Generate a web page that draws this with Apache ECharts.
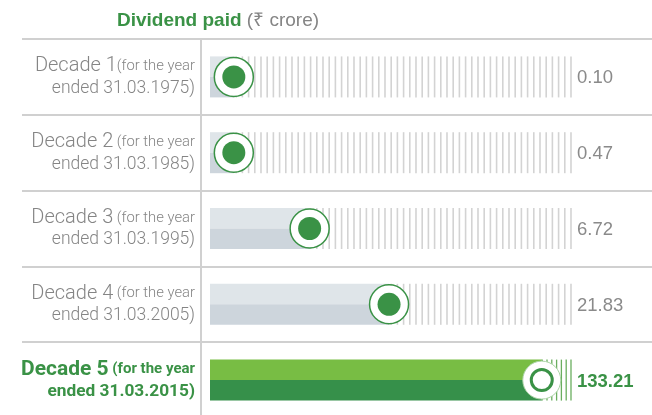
<!DOCTYPE html>
<html>
<head>
<meta charset="utf-8">
<script src="https://cdn.jsdelivr.net/npm/echarts@6/dist/echarts.min.js"></script>
<style>
html, body { margin: 0; padding: 0; background: #fff; }
#chart { width: 652px; height: 415px; }
</style>
</head>
<body>
<div id="chart"></div>
<script>
const decades = ['Decade 1', 'Decade 2', 'Decade 3', 'Decade 4', 'Decade 5'];
const yearEnded = ['31.03.1975', '31.03.1985', '31.03.1995', '31.03.2005', '31.03.2015'];
const dividend = ['0.10', '0.47', '6.72', '21.83', '133.21'];
// marker position on a 0-100 track (the infographic is not to scale)
const markerPos = [6.6, 6.6, 27.6, 49.6, 91.9];

const GREEN = '#3a9246';
const GREY = '#858585';
const LABEL_FONT = 'Roboto, "Liberation Sans", sans-serif';
const SANS = '"Liberation Sans", Arial, sans-serif';

const chart = echarts.init(document.getElementById('chart'));

function renderRow(params, api) {
  const i = api.value(1);
  const p = api.coord([api.value(0), i]);
  const xm = p[0], yc = p[1];
  const x0 = api.coord([0, i])[0];
  const xe = api.coord([100, i])[0];
  const h = 41;
  const top = yc - h / 2;
  const last = i === decades.length - 1;
  const children = [
    {type: 'rect', shape: {x: x0, y: top, width: xm - x0, height: h / 2}, style: {fill: last ? '#78bd44' : '#dfe5e9'}},
    {type: 'rect', shape: {x: x0, y: yc, width: xm - x0, height: h / 2}, style: {fill: last ? '#36904a' : '#cdd5dc'}}
  ];
  // hatching from the end of the track back to the marker
  const step = last ? 4.8 : 6.2;
  for (let x = xe; x > xm; x -= step) {
    children.push({
      type: 'line',
      shape: {x1: x, y1: top, x2: x, y2: top + h},
      style: {stroke: last ? '#6aae5f' : '#d3d3d3', lineWidth: last ? 1.3 : 1.6}
    });
  }
  if (last) {
    children.push({type: 'circle', shape: {cx: xm, cy: yc, r: 19}, style: {fill: '#fff', stroke: '#a9d3a4', lineWidth: 1}});
    children.push({type: 'circle', shape: {cx: xm, cy: yc, r: 10.5}, style: {fill: '#fff', stroke: GREEN, lineWidth: 3}});
  } else {
    children.push({type: 'circle', shape: {cx: xm, cy: yc, r: 19.5}, style: {fill: '#fff', stroke: GREEN, lineWidth: 1.5}});
    children.push({type: 'circle', shape: {cx: xm, cy: yc, r: 11.5}, style: {fill: GREEN}});
  }
  return {type: 'group', children: children};
}

const option = {
  animation: false,
  title: {
    text: '{g|Dividend paid}{s| (₹ crore)}',
    left: 112,
    top: 6,
    textStyle: {
      rich: {
        g: {fontFamily: SANS, fontSize: 19, fontWeight: 'bold', color: GREEN},
        s: {fontFamily: SANS, fontSize: 19, fontWeight: 'normal', color: GREY}
      }
    }
  },
  grid: {left: 22, right: 0, top: 39, bottom: -3, outerBoundsMode: 'none'},
  xAxis: {type: 'value', min: -52.08, max: 122.44, show: false},
  yAxis: [
    {
      type: 'category',
      inverse: true,
      data: decades,
      offset: -179,
      axisLine: {show: true, onZero: false, lineStyle: {color: '#d0d0d0', width: 2}},
      axisTick: {show: false},
      splitLine: {show: true, lineStyle: {color: '#d0d0d0', width: 2}},
      axisLabel: {
        margin: 6,
        align: 'right',
        formatter: function (v, i) {
          const k = i === decades.length - 1 ? '5' : '';
          const sep = i === 0 ? '' : ' ';
          return '{a' + k + '|' + v + '}{b' + k + '|' + sep + '(for the year}\n{c' + k + '|ended ' + yearEnded[i] + ')}';
        },
        rich: {
          a: {fontFamily: LABEL_FONT, fontSize: 20, fontWeight: 300, color: GREY, lineHeight: 23, padding: [2, 0, 0, 0]},
          b: {fontFamily: LABEL_FONT, fontSize: 14.8, fontWeight: 300, color: GREY, lineHeight: 23, padding: [2, 0, 0, 0]},
          c: {fontFamily: LABEL_FONT, fontSize: 17.5, fontWeight: 300, color: GREY, lineHeight: 23},
          a5: {fontFamily: LABEL_FONT, fontSize: 21, fontWeight: 'bold', color: GREEN, lineHeight: 23, padding: [2, 0, 0, 0]},
          b5: {fontFamily: LABEL_FONT, fontSize: 15, fontWeight: 'bold', color: GREEN, lineHeight: 23, padding: [2, 0, 0, 0]},
          c5: {fontFamily: LABEL_FONT, fontSize: 17.3, fontWeight: 'bold', color: GREEN, lineHeight: 23}
        }
      }
    },
    {
      type: 'category',
      inverse: true,
      position: 'right',
      offset: -81,
      data: dividend,
      axisLine: {show: false},
      axisTick: {show: false},
      splitLine: {show: false},
      axisLabel: {
        margin: 6,
        align: 'left',
        formatter: function (v, i) {
          return i === dividend.length - 1 ? '{h|' + v + '}' : '{n|' + v + '}';
        },
        rich: {
          n: {fontFamily: SANS, fontSize: 18.5, color: '#8a8a8a', padding: [3, 0, 0, 0]},
          h: {fontFamily: SANS, fontSize: 18.5, fontWeight: 'bold', color: GREEN, padding: [3, 0, 0, 0]}
        }
      }
    }
  ],
  series: [
    {
      type: 'custom',
      yAxisIndex: 0,
      renderItem: renderRow,
      encode: {x: 0, y: 1},
      data: markerPos.map((v, i) => [v, i])
    }
  ]
};

chart.setOption(option);
</script>
</body>
</html>
